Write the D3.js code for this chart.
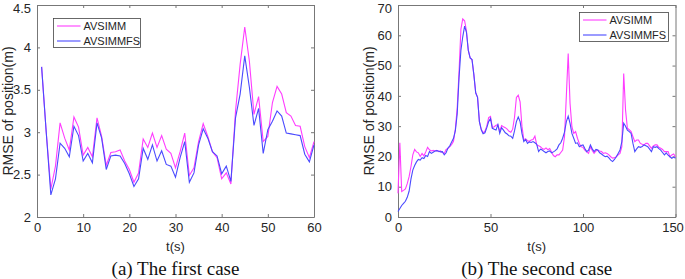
<!DOCTYPE html>
<html>
<head>
<meta charset="utf-8">
<script src="https://cdn.jsdelivr.net/npm/d3@7"></script>
<style>
body { margin: 0; background: #fff; }
svg { display: block; }
.axis text { font-family: "Liberation Sans", Arial, sans-serif; font-size: 13px; fill: #262626; }
.axis path, .axis line { stroke: #777; }
</style>
</head>
<body>
<svg id="svg" width="685" height="279"></svg>
<script>
// (a) first case, t = 1..60
const t1 = d3.range(1, 61);
const avsimm1 = [3.77, 3.0, 2.33, 2.60, 3.11, 2.93, 2.79, 3.18, 3.06, 2.73,
    2.82, 2.71, 3.17, 2.95, 2.61, 2.76, 2.77, 2.79, 2.66, 2.56,
    2.41, 2.52, 2.92, 2.82, 2.99, 2.82, 2.96, 2.80, 2.75, 2.58,
    2.77, 2.99, 2.49, 2.58, 2.89, 3.10, 2.95, 2.77, 2.70, 2.45,
    2.52, 2.39, 3.25, 3.80, 4.24, 3.84, 3.21, 3.42, 2.89, 2.95,
    3.35, 3.54, 3.45, 3.23, 3.19, 3.08, 3.07, 2.83, 2.70, 2.89];
const avsimmfs1 = [3.77, 3.0, 2.26, 2.45, 2.87, 2.81, 2.71, 3.07, 2.96, 2.66,
    2.75, 2.64, 3.11, 2.93, 2.56, 2.72, 2.73, 2.72, 2.63, 2.51,
    2.36, 2.45, 2.81, 2.68, 2.85, 2.66, 2.78, 2.62, 2.60, 2.47,
    2.70, 2.89, 2.41, 2.52, 2.85, 3.04, 2.93, 2.77, 2.72, 2.51,
    2.60, 2.42, 3.17, 3.45, 3.90, 3.53, 3.08, 3.28, 2.75, 3.03,
    3.13, 3.25, 3.19, 2.99, 2.98, 2.97, 2.96, 2.74, 2.65, 2.85];

// (b) second case, t = 0..150
const t2 = d3.range(0, 151);
const avsimm2 = [7.8, 24.5, 8.4, 8.8, 9.3, 11.0, 13.3, 16.6, 20.5, 22.3,
    21.5, 21.2, 20.0, 21.0, 20.2, 21.5, 23.0, 22.2, 21.8, 22.0,
    21.8, 22.0, 21.6, 21.8, 21.3, 21.0, 22.3, 22.6, 23.2, 24.0,
    25.0, 29.0, 36.0, 48.0, 62.0, 65.4, 64.8, 61.5, 55.0, 52.5,
    52.0, 47.0, 41.0, 39.5, 31.5, 29.0, 27.8, 28.3, 30.0, 32.8,
    33.2, 29.5, 29.8, 30.3, 30.5, 28.3, 30.2, 29.8, 29.5, 29.0,
    28.3, 28.0, 29.0, 33.0, 39.5, 40.2, 38.0, 30.0, 25.5, 25.8,
    25.2, 25.0, 25.4, 25.6, 26.7, 23.8, 23.5, 23.2, 22.6, 22.3,
    22.8, 22.2, 22.6, 21.5, 20.3, 19.9, 20.5, 20.5, 21.3, 22.1,
    26.5, 40.0, 54.0, 37.5, 29.8, 27.6, 28.2, 26.0, 24.3, 23.2,
    23.0, 22.1, 21.5, 21.0, 23.2, 22.0, 21.0, 21.8, 22.1, 21.8,
    21.6, 21.0, 21.2, 21.0, 20.5, 19.9, 19.4, 19.6, 19.9, 20.5,
    21.0, 23.2, 47.4, 35.3, 29.3, 28.8, 28.2, 26.5, 24.9, 25.4,
    25.4, 24.3, 24.0, 23.8, 24.3, 24.3, 23.5, 22.7, 23.5, 23.8,
    23.8, 23.0, 22.7, 22.3, 21.6, 21.6, 21.6, 19.9, 20.5, 20.8,
    19.9];
const avsimmfs2 = [1.8, 2.8, 3.8, 4.5, 5.2, 6.5, 8.5, 12.5, 15.5, 17.0,
    18.2, 19.0, 18.8, 19.6, 19.3, 20.3, 20.0, 21.6, 21.0, 21.4,
    21.8, 21.9, 21.7, 21.5, 21.6, 20.5, 21.2, 22.8, 23.5, 24.8,
    26.0, 28.5, 34.0, 46.0, 55.0, 59.5, 63.0, 61.0, 55.0, 52.5,
    52.0, 47.0, 41.0, 39.5, 31.5, 28.8, 27.5, 27.8, 29.5, 31.5,
    32.5, 29.3, 29.0, 28.7, 30.5, 27.6, 29.5, 28.7, 27.8, 27.4,
    26.8, 26.7, 26.0, 28.5, 31.5, 33.0, 31.5, 27.6, 24.9, 25.6,
    24.3, 24.8, 24.6, 24.9, 24.5, 24.0, 21.6, 22.4, 22.1, 21.6,
    21.2, 21.6, 21.8, 21.2, 21.5, 21.9, 22.5, 23.8, 24.5, 26.0,
    28.0, 31.5, 33.3, 30.9, 27.6, 26.0, 24.3, 24.5, 23.2, 23.6,
    23.8, 22.6, 21.6, 22.1, 23.8, 22.5, 21.6, 22.3, 22.1, 21.2,
    20.8, 20.3, 19.9, 20.1, 19.5, 18.8, 18.3, 19.0, 19.9, 21.0,
    22.1, 24.9, 31.0, 30.0, 28.7, 28.2, 27.6, 24.3, 21.6, 22.5,
    23.2, 23.0, 23.3, 23.8, 23.5, 23.2, 22.4, 21.6, 23.2, 23.0,
    23.2, 22.6, 22.1, 21.3, 20.5, 21.2, 20.4, 19.9, 19.4, 19.8,
    19.4];

const seriesNames = ["AVSIMM", "AVSIMMFS"];
const seriesColors = ["#ff3cff", "#4a4aff"];

const svg = d3.select("#svg");
const sans = "Liberation Sans, Arial, sans-serif";

function panel(o) {
    const x = d3.scaleLinear().domain(o.xDomain).range([o.left, o.right]),
        y = d3.scaleLinear().domain(o.yDomain).range([o.bottom, o.top]);
    const g = svg.append("g");
    const tk = 3, fmt = d3.format("~g");

    const xa = g.append("g").attr("class", "axis").attr("transform", "translate(0," + o.bottom + ")")
        .call(d3.axisBottom(x).tickValues(o.xTicks).tickFormat(fmt).tickSize(-tk).tickPadding(6).tickSizeOuter(0));
    g.append("g").attr("class", "axis").attr("transform", "translate(0," + o.top + ")")
        .call(d3.axisTop(x).tickValues(o.xTicks).tickSize(-tk).tickFormat("").tickSizeOuter(0));
    const ya = g.append("g").attr("class", "axis").attr("transform", "translate(" + o.left + ",0)")
        .call(d3.axisLeft(y).tickValues(o.yTicks).tickFormat(fmt).tickSize(-tk).tickPadding(6).tickSizeOuter(0));
    g.append("g").attr("class", "axis").attr("transform", "translate(" + o.right + ",0)")
        .call(d3.axisRight(y).tickValues(o.yTicks).tickSize(-tk).tickFormat("").tickSizeOuter(0));

    // keep edge labels inside the page
    ya.selectAll(".tick text").filter(d => d === o.yDomain[1]).attr("dy", "0.6em");
    xa.selectAll(".tick text").filter(d => d === o.xDomain[1]).attr("dx", o.lastXdx || 0);

    const line = d3.line().x((d, i) => x(o.t[i])).y(d => y(d));
    o.series.forEach((s, i) => {
        g.append("path").attr("d", line(s)).attr("fill", "none")
            .attr("stroke", seriesColors[i]).attr("stroke-width", 1.1);
    });

    // legend
    const lg = g.append("g").attr("transform", "translate(" + o.legend[0] + "," + o.legend[1] + ")");
    lg.append("rect").attr("width", o.legend[2]).attr("height", 29)
        .attr("fill", "#fff").attr("stroke", "#444").attr("stroke-width", 0.8);
    seriesNames.forEach((n, i) => {
        const yy = 7.5 + i * 15;
        lg.append("line").attr("x1", 3.5).attr("x2", 27).attr("y1", yy).attr("y2", yy)
            .attr("stroke", seriesColors[i]).attr("stroke-width", 1.1);
        lg.append("text").attr("x", 30).attr("y", yy + 4).text(n)
            .style("font-family", sans).style("font-size", "11px").attr("fill", "#262626");
    });

    const cx = (o.left + o.right) / 2;
    g.append("text").attr("x", cx).attr("y", 251).attr("text-anchor", "middle").text("t(s)")
        .style("font-family", sans).style("font-size", "13px").attr("fill", "#262626");
    g.append("text").attr("transform", "translate(" + o.ylabX + "," + ((o.top + o.bottom) / 2) + ") rotate(-90)")
        .attr("text-anchor", "middle").text("RMSE of position(m)")
        .style("font-family", sans).style("font-size", "14px").attr("fill", "#262626");
    g.append("text").attr("x", cx).attr("y", 275).attr("text-anchor", "middle").text(o.caption)
        .style("font-family", "Liberation Serif, Times New Roman, serif").style("font-size", "19px").attr("fill", "#111");
}

panel({
    t: t1, series: [avsimm1, avsimmfs1],
    xDomain: [0, 60], yDomain: [2, 4.5],
    xTicks: [0, 10, 20, 30, 40, 50, 60], yTicks: [2, 2.5, 3, 3.5, 4, 4.5],
    left: 37, right: 314, top: 5, bottom: 217,
    legend: [53.5, 18.5, 87], ylabX: 13, caption: "(a) The first case"
});

panel({
    t: t2, series: [avsimm2, avsimmfs2],
    xDomain: [0, 150], yDomain: [0, 70],
    xTicks: [0, 50, 100, 150], yTicks: [0, 10, 20, 30, 40, 50, 60, 70],
    left: 398, right: 675.5, top: 5, bottom: 217, lastXdx: -3,
    legend: [579.5, 12.5, 89], ylabX: 374, caption: "(b) The second case"
});
</script>
</body>
</html>
